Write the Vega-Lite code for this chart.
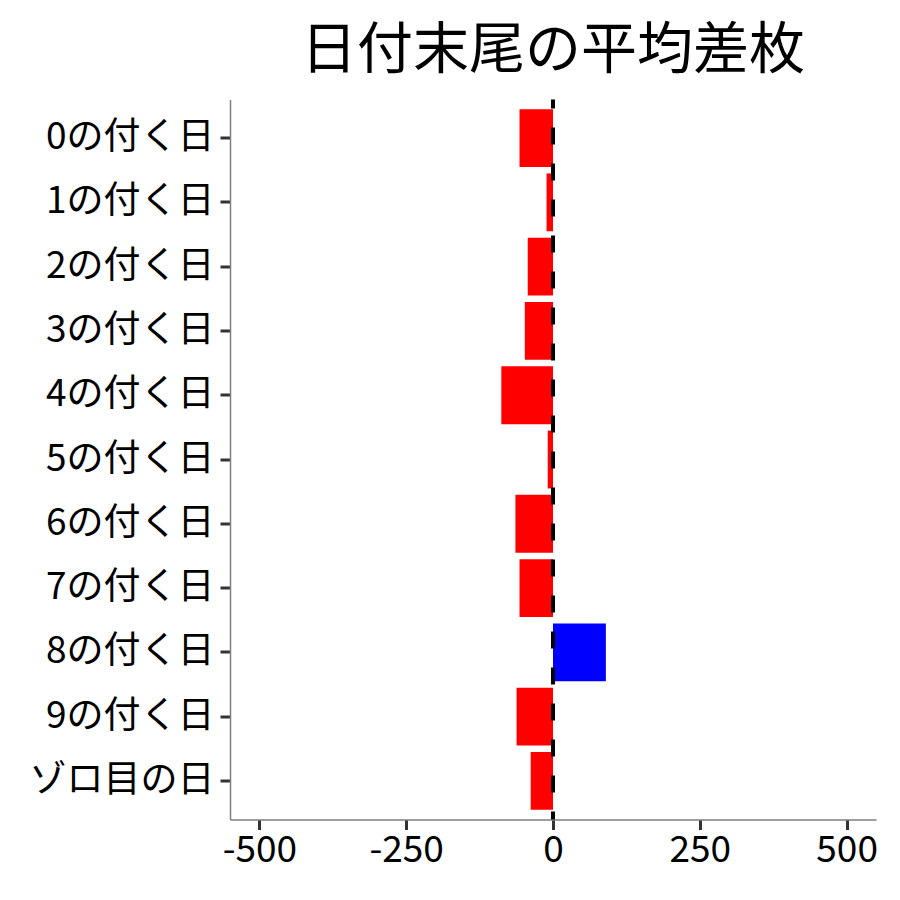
{
  "$schema": "https://vega.github.io/schema/vega-lite/v6.json",
  "autosize": {"type": "none"},
  "width": 646,
  "height": 720,
  "padding": {"left": 230, "top": 99.5, "right": 24, "bottom": 80.5},
  "background": "white",
  "title": {
    "text": "日付末尾の平均差枚",
    "font": "Noto Sans CJK JP",
    "fontSize": 56,
    "fontWeight": "normal",
    "color": "black",
    "anchor": "middle",
    "offset": 18
  },
  "config": {
    "view": {"stroke": null},
    "font": "Noto Sans CJK JP"
  },
  "data": {
    "values": [
      {"day": "0の付く日", "diff": -57, "sign": "neg"},
      {"day": "1の付く日", "diff": -11, "sign": "neg"},
      {"day": "2の付く日", "diff": -43, "sign": "neg"},
      {"day": "3の付く日", "diff": -48, "sign": "neg"},
      {"day": "4の付く日", "diff": -88, "sign": "neg"},
      {"day": "5の付く日", "diff": -9, "sign": "neg"},
      {"day": "6の付く日", "diff": -64, "sign": "neg"},
      {"day": "7の付く日", "diff": -57, "sign": "neg"},
      {"day": "8の付く日", "diff": 90, "sign": "pos"},
      {"day": "9の付く日", "diff": -62, "sign": "neg"},
      {"day": "ゾロ目の日", "diff": -38, "sign": "neg"}
    ]
  },
  "layer": [
    {
      "mark": {"type": "bar"},
      "encoding": {
        "y": {
          "field": "day",
          "type": "nominal",
          "sort": null,
          "scale": {"paddingInner": 0.1, "paddingOuter": 0.15},
          "axis": {
            "title": null,
            "labelFontSize": 37,
            "labelLimit": 400,
            "labelColor": "black",
            "labelFont": "Noto Sans CJK JP",
            "labelPadding": 6,
            "tickSize": 10,
            "tickWidth": 3,
            "tickColor": "#333333",
            "domainColor": "#7f7f7f",
            "domainWidth": 1.5,
            "grid": false
          }
        },
        "x": {
          "field": "diff",
          "type": "quantitative",
          "scale": {"domain": [-550, 550], "nice": false, "zero": false},
          "axis": {
            "title": null,
            "values": [-500, -250, 0, 250, 500],
            "labelExpr": "'' + datum.value",
            "labelFontSize": 37,
            "labelColor": "black",
            "labelFont": "Noto Sans CJK JP",
            "labelPadding": 3,
            "tickSize": 10,
            "tickWidth": 3,
            "tickColor": "#333333",
            "domainColor": "#7f7f7f",
            "domainWidth": 1.5,
            "grid": false
          }
        },
        "color": {
          "field": "sign",
          "type": "nominal",
          "scale": {"domain": ["neg", "pos"], "range": ["#FF0000", "#0000FF"]},
          "legend": null
        }
      }
    },
    {
      "data": {"values": [{"zero": 0}]},
      "mark": {"type": "rule", "color": "black", "strokeWidth": 4, "strokeDash": [17, 19], "strokeDashOffset": 8},
      "encoding": {
        "x": {"field": "zero", "type": "quantitative"}
      }
    }
  ]
}
